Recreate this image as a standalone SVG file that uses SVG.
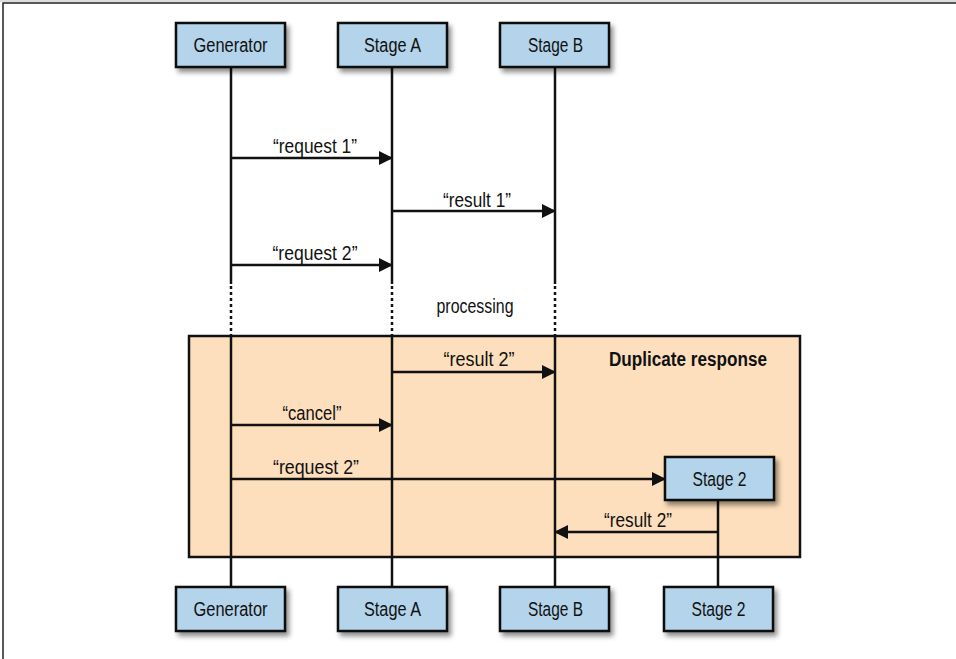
<svg xmlns="http://www.w3.org/2000/svg" width="956" height="659" viewBox="0 0 956 659">
<style>
.box{fill:#b3d4ea;stroke:#111;stroke-width:2.5}
.lbl{font-family:"Liberation Sans",Arial,sans-serif;font-size:20px;fill:#111;text-anchor:middle}
.life{stroke:#111;stroke-width:2.5;fill:none}
.dot{stroke:#111;stroke-width:2.5;fill:none;stroke-dasharray:3 3}
.msg{stroke:#111;stroke-width:2.5;fill:none;marker-end:url(#ah)}
</style>
<defs>
<marker id="ah" viewBox="0 0 14 14" refX="13" refY="7" markerWidth="14" markerHeight="14" markerUnits="userSpaceOnUse" orient="auto">
<path d="M0,0 L14,7 L0,14 Z" fill="#111"/>
</marker>
<filter id="sh" x="-20%" y="-20%" width="150%" height="160%">
<feDropShadow dx="3" dy="4" stdDeviation="2.5" flood-color="#000" flood-opacity="0.45"/>
</filter>
</defs>
<rect x="0" y="0" width="956" height="659" fill="#fff"/>
<rect x="3" y="3" width="980" height="700" fill="none" stroke="#222" stroke-width="1.5"/>
<line x1="0" y1="1" x2="956" y2="1" stroke="#bbb" stroke-width="1"/>
<g id="frame-duplicate">
<rect x="189" y="336" width="611" height="221" fill="#fddfbd" stroke="#111" stroke-width="2.5"/>
<text class="lbl" x="688" y="366" font-weight="bold" textLength="158" lengthAdjust="spacingAndGlyphs">Duplicate response</text>
</g>
<g id="lifelines">
<line class="life" x1="231" y1="67" x2="231" y2="284"/>
<line class="dot" x1="231" y1="286" x2="231" y2="336"/>
<line class="life" x1="231" y1="336" x2="231" y2="587"/>
<line class="life" x1="392" y1="67" x2="392" y2="284"/>
<line class="dot" x1="392" y1="286" x2="392" y2="336"/>
<line class="life" x1="392" y1="336" x2="392" y2="587"/>
<line class="life" x1="555" y1="67" x2="555" y2="284"/>
<line class="dot" x1="555" y1="286" x2="555" y2="336"/>
<line class="life" x1="555" y1="336" x2="555" y2="587"/>
<line class="life" x1="718" y1="500" x2="718" y2="587"/>
</g>
<g id="connectors">
<line class="msg" x1="231" y1="158" x2="392" y2="158"/>
<line class="msg" x1="392" y1="211" x2="555" y2="211"/>
<line class="msg" x1="231" y1="265" x2="392" y2="265"/>
<line class="msg" x1="392" y1="372" x2="555" y2="372"/>
<line class="msg" x1="231" y1="425" x2="392" y2="425"/>
<line class="msg" x1="231" y1="479" x2="665" y2="479"/>
<line class="msg" x1="718" y1="532" x2="555" y2="532"/>
</g>
<g id="labels">
<text class="lbl" x="315" y="153" textLength="84" lengthAdjust="spacingAndGlyphs">“request 1”</text>
<text class="lbl" x="477" y="207" textLength="68" lengthAdjust="spacingAndGlyphs">“result 1”</text>
<text class="lbl" x="315" y="260" textLength="85" lengthAdjust="spacingAndGlyphs">“request 2”</text>
<text class="lbl" x="475" y="313" textLength="77" lengthAdjust="spacingAndGlyphs">processing</text>
<text class="lbl" x="479" y="366" textLength="71" lengthAdjust="spacingAndGlyphs">“result 2”</text>
<text class="lbl" x="312" y="420" textLength="59" lengthAdjust="spacingAndGlyphs">“cancel”</text>
<text class="lbl" x="316" y="474" textLength="86" lengthAdjust="spacingAndGlyphs">“request 2”</text>
<text class="lbl" x="638" y="527" textLength="68" lengthAdjust="spacingAndGlyphs">“result 2”</text>
</g>
<g id="node-generator-top"><rect class="box" x="176" y="23" width="109" height="44" filter="url(#sh)"/><text class="lbl" x="230.5" y="52" textLength="74" lengthAdjust="spacingAndGlyphs">Generator</text></g>
<g id="node-stagea-top"><rect class="box" x="338" y="23" width="109" height="44" filter="url(#sh)"/><text class="lbl" x="392.5" y="52" textLength="57" lengthAdjust="spacingAndGlyphs">Stage A</text></g>
<g id="node-stageb-top"><rect class="box" x="500" y="23" width="109" height="44" filter="url(#sh)"/><text class="lbl" x="555.5" y="52" textLength="55" lengthAdjust="spacingAndGlyphs">Stage B</text></g>
<g id="node-stage2-mid"><rect class="box" x="665" y="457" width="109" height="43" filter="url(#sh)"/><text class="lbl" x="719.5" y="486" textLength="54" lengthAdjust="spacingAndGlyphs">Stage 2</text></g>
<g id="node-generator-bottom"><rect class="box" x="176" y="587" width="109" height="44" filter="url(#sh)"/><text class="lbl" x="230.5" y="616" textLength="74" lengthAdjust="spacingAndGlyphs">Generator</text></g>
<g id="node-stagea-bottom"><rect class="box" x="338" y="587" width="109" height="44" filter="url(#sh)"/><text class="lbl" x="392.5" y="616" textLength="57" lengthAdjust="spacingAndGlyphs">Stage A</text></g>
<g id="node-stageb-bottom"><rect class="box" x="500" y="587" width="109" height="44" filter="url(#sh)"/><text class="lbl" x="555.5" y="616" textLength="55" lengthAdjust="spacingAndGlyphs">Stage B</text></g>
<g id="node-stage2-bottom"><rect class="box" x="664" y="587" width="109" height="44" filter="url(#sh)"/><text class="lbl" x="718.5" y="616" textLength="54" lengthAdjust="spacingAndGlyphs">Stage 2</text></g>
</svg>
